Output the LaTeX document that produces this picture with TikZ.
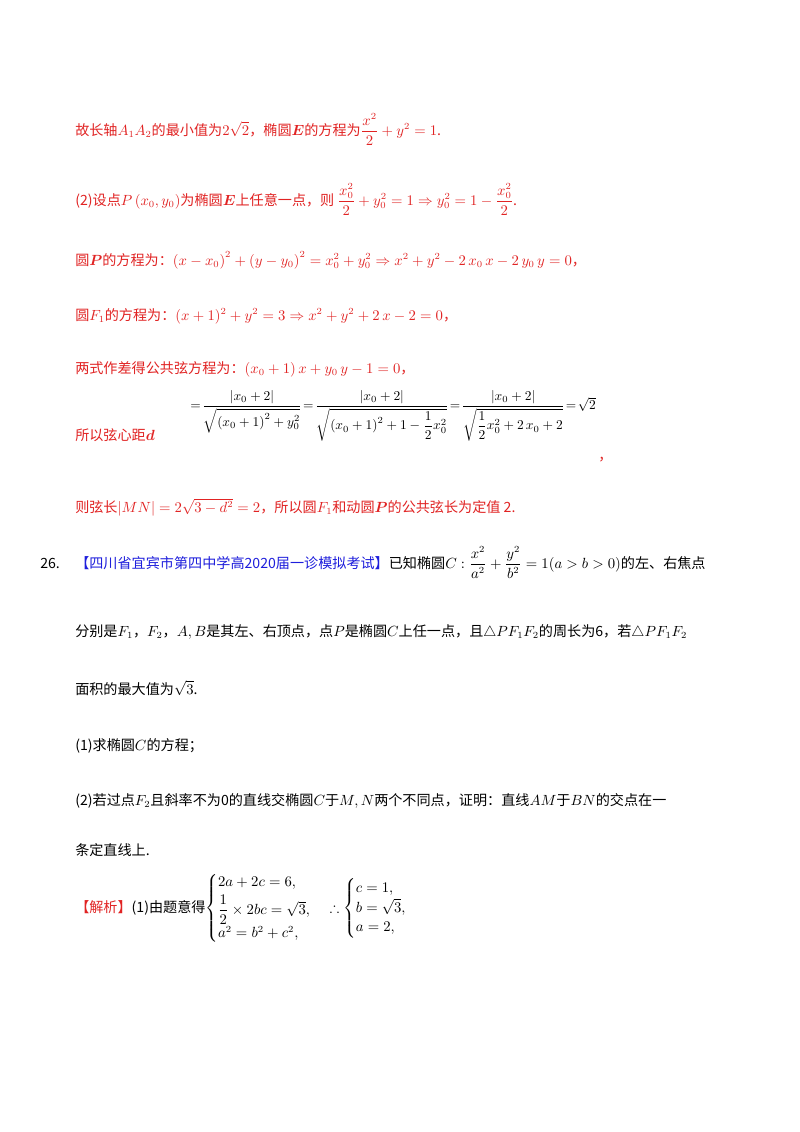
\documentclass[tikz,border=0pt]{standalone}
\usepackage{amsmath,amssymb}
\usepackage{fontspec}
\newfontfamily\cjk{Noto Sans CJK SC}
\definecolor{rd}{RGB}{225,35,35}
\definecolor{bl}{RGB}{30,30,220}
\begin{document}
\begin{tikzpicture}[x=0.744pt,y=-0.744pt,
 t/.style={anchor=base west,inner sep=0pt,font=\fontsize{10.5}{12}\selectfont\cjk},
 r/.style={t,text=rd}]
\useasboundingbox[fill=white] (0,0) rectangle (800,1132);
\node[r] (l1) at (75,135) {故长轴$A_1A_2$的最小值为$2\sqrt2$，椭圆$\boldsymbol E$的方程为$\dfrac{x^2}{2}+y^2=1$.};
\node[r] (l2) at (75,205) {(2)设点$P\left(x_0,y_0\right)$为椭圆$\boldsymbol E$上任意一点，则 $\dfrac{x_0^2}{2}+y_0^2=1\Rightarrow y_0^2=1-\dfrac{x_0^2}{2}$.};
\node[r] (l3) at (75,265) {圆$\boldsymbol P$的方程为：$\left(x-x_0\right)^2+\left(y-y_0\right)^2=x_0^2+y_0^2\Rightarrow x^2+y^2-2\,x_0\,x-2\,y_0\,y=0$，};
\node[r] (l4) at (75,320) {圆$F_1$的方程为：$(x+1)^2+y^2=3\Rightarrow x^2+y^2+2\,x-2=0$，};
\node[r] (l5) at (75,373) {两式作差得公共弦方程为：$\left(x_0+1\right)x+y_0\,y-1=0$，};
\node[r] (l6) at (75,440) {所以弦心距$\boldsymbol d$};
\node[anchor=west,inner sep=0pt,font=\fontsize{10}{12}\selectfont] (eq) at (190,416) {$\displaystyle=\!\frac{\left|x_0+2\right|}{\sqrt{\left(x_0+1\right)^2+y_0^2}}\!=\!\frac{\left|x_0+2\right|}{\sqrt{\left(x_0+1\right)^2+1-\dfrac12x_0^2}}\!=\!\frac{\left|x_0+2\right|}{\sqrt{\dfrac12x_0^2+2\,x_0+2}}\!=\!\sqrt2$};
\node[r] (cm) at (598,460) {，};
\node[r] (l7) at (75,512) {则弦长$\left|MN\right|=2\sqrt{3-d^2}=2$，所以圆$F_1$和动圆$\boldsymbol P$的公共弦长为定值 2.};
\node[t] (n26) at (40,568) {26.};
\node[t] (l8) at (75,568) {\textcolor{bl}{【四川省宜宾市第四中学高2020届一诊模拟考试】}已知椭圆$C:\dfrac{x^2}{a^2}+\dfrac{y^2}{b^2}=1(a>b>0)$的左、右焦点};
\node[t] (l9) at (75,636) {分别是$F_1$，$F_2$，$A,B$是其左、右顶点，点$P$是椭圆$C$上任一点，且$\triangle PF_1F_2$的周长为6，若$\triangle PF_1F_2$};
\node[t] (l10) at (75,694) {面积的最大值为$\sqrt3$.};
\node[t] (l11) at (75,750) {(1)求椭圆$C$的方程；};
\node[t] (l12) at (75,805) {(2)若过点$F_2$且斜率不为0的直线交椭圆$C$于$M,N$两个不同点，证明：直线$AM$于$BN$的交点在一};
\node[t] (l13) at (75,855) {条定直线上.};
\node[t] (l14) at (75,912) {\textcolor{rd}{【解析】}(1)由题意得$\begin{cases}2a+2c=6,\\[2pt] \dfrac12\times2bc=\sqrt3,\\[2pt] a^2=b^2+c^2,\end{cases}\therefore\begin{cases}c=1,\\ b=\sqrt3,\\ a=2,\end{cases}$};
\end{tikzpicture}
\end{document}
